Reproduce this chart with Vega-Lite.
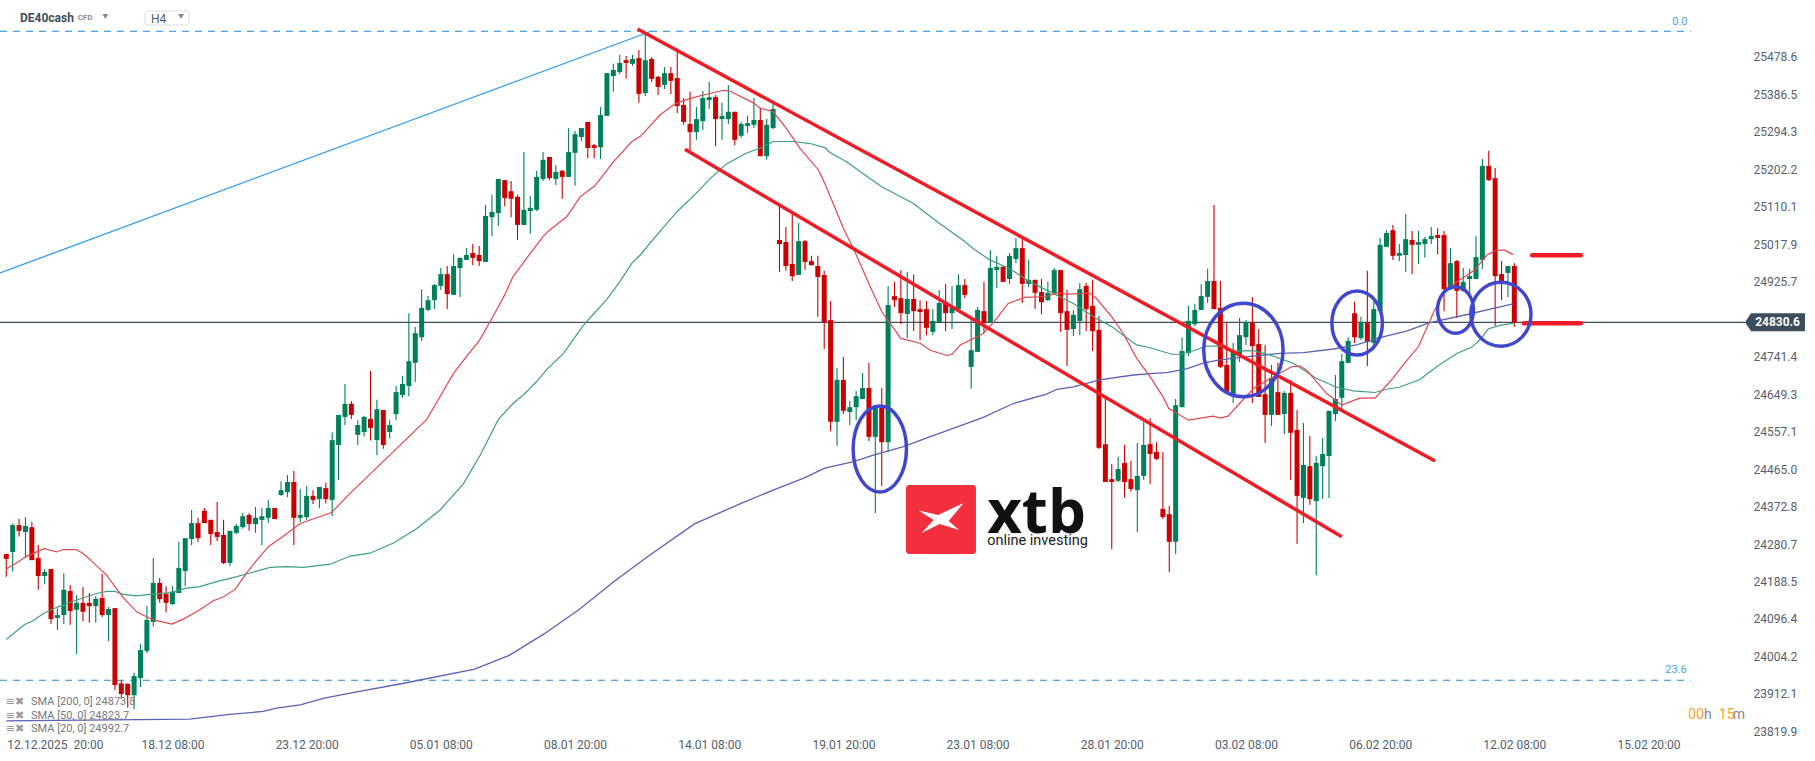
{
"$schema":"https://vega.github.io/schema/vega-lite/v6.json",
"width":1745,"height":738,"autosize":{"type":"none"},"padding":{"left":0,"top":0,"right":70,"bottom":23},"background":"white",
"config":{"view":{"stroke":null},"text":{"font":"Roboto"},"axis":{"labelFont":"Roboto","labelColor":"#55606a","labelFontSize":12,"ticks":false,"domain":false,"grid":false,"title":null}},
"datasets":{
"candles":[
{"i":0,"o":24261,"h":24261,"l":24205,"c":24249},{"i":1,"o":24266,"h":24336,"l":24218,"c":24332},{"i":2,"o":24332,"h":24347,"l":24304,"c":24318},{"i":3,"o":24315,"h":24352,"l":24252,"c":24330},{"i":4,"o":24327,"h":24340,"l":24246,"c":24246},{"i":5,"o":24251,"h":24283,"l":24173,"c":24207},{"i":6,"o":24207,"h":24224,"l":24187,"c":24217},{"i":7,"o":24224,"h":24224,"l":24089,"c":24101},{"i":8,"o":24104,"h":24128,"l":24074,"c":24111},{"i":9,"o":24111,"h":24214,"l":24089,"c":24173},
{"i":10,"o":24170,"h":24185,"l":24087,"c":24121},{"i":11,"o":24124,"h":24160,"l":24015,"c":24141},{"i":12,"o":24141,"h":24180,"l":24096,"c":24119},{"i":13,"o":24141,"h":24165,"l":24092,"c":24133},{"i":14,"o":24133,"h":24158,"l":24092,"c":24151},{"i":15,"o":24153,"h":24212,"l":24106,"c":24111},{"i":16,"o":24111,"h":24131,"l":24047,"c":24126},{"i":17,"o":24128,"h":24128,"l":23927,"c":23939},{"i":18,"o":23943,"h":23951,"l":23906,"c":23917},{"i":19,"o":23942,"h":23943,"l":23884,"c":23914},
{"i":20,"o":23914,"h":23969,"l":23880,"c":23961},{"i":21,"o":23956,"h":24040,"l":23934,"c":24025},{"i":22,"o":24023,"h":24133,"l":24018,"c":24099},{"i":23,"o":24094,"h":24251,"l":24082,"c":24190},{"i":24,"o":24190,"h":24202,"l":24141,"c":24150},{"i":25,"o":24163,"h":24182,"l":24118,"c":24141},{"i":26,"o":24138,"h":24182,"l":24136,"c":24168},{"i":27,"o":24165,"h":24291,"l":24165,"c":24227},{"i":28,"o":24219,"h":24300,"l":24182,"c":24300},{"i":29,"o":24298,"h":24369,"l":24283,"c":24337},
{"i":30,"o":24337,"h":24350,"l":24291,"c":24300},{"i":31,"o":24367,"h":24374,"l":24337,"c":24337},{"i":32,"o":24345,"h":24345,"l":24283,"c":24310},{"i":33,"o":24315,"h":24389,"l":24293,"c":24303},{"i":34,"o":24308,"h":24345,"l":24236,"c":24239},{"i":35,"o":24239,"h":24318,"l":24232,"c":24318},{"i":36,"o":24313,"h":24335,"l":24310,"c":24330},{"i":37,"o":24327,"h":24362,"l":24323,"c":24354},{"i":38,"o":24357,"h":24362,"l":24318,"c":24335},{"i":39,"o":24335,"h":24377,"l":24313,"c":24350},
{"i":40,"o":24345,"h":24374,"l":24283,"c":24354},{"i":41,"o":24350,"h":24394,"l":24337,"c":24374},{"i":42,"o":24374,"h":24374,"l":24347,"c":24347},{"i":43,"o":24406,"h":24440,"l":24404,"c":24418},{"i":44,"o":24413,"h":24455,"l":24401,"c":24438},{"i":45,"o":24438,"h":24465,"l":24283,"c":24350},{"i":46,"o":24350,"h":24421,"l":24340,"c":24357},{"i":47,"o":24352,"h":24428,"l":24345,"c":24404},{"i":48,"o":24404,"h":24418,"l":24384,"c":24394},{"i":49,"o":24396,"h":24426,"l":24374,"c":24426},
{"i":50,"o":24423,"h":24436,"l":24386,"c":24396},{"i":51,"o":24394,"h":24560,"l":24354,"c":24541},{"i":52,"o":24529,"h":24603,"l":24443,"c":24603},{"i":53,"o":24598,"h":24679,"l":24578,"c":24630},{"i":54,"o":24630,"h":24637,"l":24593,"c":24603},{"i":55,"o":24554,"h":24590,"l":24529,"c":24578},{"i":56,"o":24561,"h":24600,"l":24550,"c":24598},{"i":57,"o":24593,"h":24711,"l":24540,"c":24571},{"i":58,"o":24541,"h":24640,"l":24504,"c":24617},{"i":59,"o":24615,"h":24615,"l":24520,"c":24529},
{"i":60,"o":24561,"h":24590,"l":24545,"c":24578},{"i":61,"o":24605,"h":24674,"l":24590,"c":24659},{"i":62,"o":24652,"h":24699,"l":24645,"c":24679},{"i":63,"o":24674,"h":24853,"l":24649,"c":24735},{"i":64,"o":24731,"h":24819,"l":24684,"c":24804},{"i":65,"o":24794,"h":24912,"l":24785,"c":24866},{"i":66,"o":24861,"h":24895,"l":24858,"c":24885},{"i":67,"o":24885,"h":24925,"l":24863,"c":24922},{"i":68,"o":24920,"h":24964,"l":24910,"c":24949},{"i":69,"o":24949,"h":24969,"l":24863,"c":24900},
{"i":70,"o":24898,"h":24998,"l":24898,"c":24969},{"i":71,"o":24964,"h":24989,"l":24893,"c":24989},{"i":72,"o":24984,"h":25013,"l":24984,"c":24996},{"i":73,"o":25001,"h":25023,"l":24971,"c":24989},{"i":74,"o":24996,"h":25018,"l":24969,"c":24981},{"i":75,"o":24979,"h":25119,"l":24979,"c":25092},{"i":76,"o":25089,"h":25144,"l":25043,"c":25102},{"i":77,"o":25099,"h":25183,"l":25067,"c":25183},{"i":78,"o":25180,"h":25180,"l":25116,"c":25136},{"i":79,"o":25153,"h":25178,"l":25089,"c":25134},
{"i":80,"o":25139,"h":25144,"l":25033,"c":25070},{"i":81,"o":25070,"h":25249,"l":25070,"c":25107},{"i":82,"o":25104,"h":25141,"l":25048,"c":25112},{"i":83,"o":25107,"h":25203,"l":25104,"c":25188},{"i":84,"o":25183,"h":25249,"l":25178,"c":25230},{"i":85,"o":25237,"h":25237,"l":25180,"c":25185},{"i":86,"o":25183,"h":25217,"l":25168,"c":25200},{"i":87,"o":25203,"h":25205,"l":25134,"c":25188},{"i":88,"o":25188,"h":25308,"l":25188,"c":25249},{"i":89,"o":25247,"h":25301,"l":25166,"c":25293},
{"i":90,"o":25286,"h":25308,"l":25276,"c":25308},{"i":91,"o":25323,"h":25323,"l":25234,"c":25259},{"i":92,"o":25266,"h":25269,"l":25234,"c":25259},{"i":93,"o":25261,"h":25360,"l":25232,"c":25340},{"i":94,"o":25338,"h":25443,"l":25338,"c":25443},{"i":95,"o":25436,"h":25466,"l":25397,"c":25451},{"i":96,"o":25446,"h":25488,"l":25441,"c":25468},{"i":97,"o":25475,"h":25485,"l":25429,"c":25468},{"i":98,"o":25466,"h":25488,"l":25461,"c":25478},{"i":99,"o":25480,"h":25500,"l":25370,"c":25392},
{"i":100,"o":25394,"h":25544,"l":25387,"c":25475},{"i":101,"o":25478,"h":25483,"l":25421,"c":25429},{"i":102,"o":25434,"h":25436,"l":25389,"c":25409},{"i":103,"o":25414,"h":25458,"l":25404,"c":25443},{"i":104,"o":25443,"h":25458,"l":25392,"c":25424},{"i":105,"o":25431,"h":25495,"l":25345,"c":25362},{"i":106,"o":25365,"h":25382,"l":25316,"c":25323},{"i":107,"o":25318,"h":25397,"l":25254,"c":25298},{"i":108,"o":25298,"h":25360,"l":25279,"c":25330},{"i":109,"o":25325,"h":25399,"l":25303,"c":25382},
{"i":110,"o":25377,"h":25421,"l":25355,"c":25384},{"i":111,"o":25384,"h":25389,"l":25264,"c":25330},{"i":112,"o":25330,"h":25370,"l":25279,"c":25338},{"i":113,"o":25330,"h":25414,"l":25318,"c":25348},{"i":114,"o":25348,"h":25348,"l":25266,"c":25279},{"i":115,"o":25289,"h":25323,"l":25284,"c":25318},{"i":116,"o":25313,"h":25338,"l":25296,"c":25320},{"i":117,"o":25316,"h":25382,"l":25308,"c":25328},{"i":118,"o":25328,"h":25357,"l":25239,"c":25239},{"i":119,"o":25239,"h":25330,"l":25230,"c":25316},
{"i":120,"o":25308,"h":25370,"l":25306,"c":25355},{"i":121,"o":25033,"h":25116,"l":24954,"c":25023},{"i":122,"o":25028,"h":25065,"l":24957,"c":24969},{"i":123,"o":24974,"h":25097,"l":24932,"c":24944},{"i":124,"o":24947,"h":25075,"l":24947,"c":25030},{"i":125,"o":25030,"h":25033,"l":24959,"c":24979},{"i":126,"o":24981,"h":24994,"l":24971,"c":24971},{"i":127,"o":24969,"h":24994,"l":24844,"c":24942},{"i":128,"o":24947,"h":24957,"l":24765,"c":24831},{"i":129,"o":24836,"h":24883,"l":24563,"c":24586},
{"i":130,"o":24586,"h":24718,"l":24527,"c":24689},{"i":131,"o":24689,"h":24745,"l":24605,"c":24613},{"i":132,"o":24610,"h":24637,"l":24578,"c":24622},{"i":133,"o":24622,"h":24662,"l":24590,"c":24649},{"i":134,"o":24642,"h":24706,"l":24642,"c":24669},{"i":135,"o":24669,"h":24731,"l":24539,"c":24549},{"i":136,"o":24549,"h":24622,"l":24362,"c":24622},{"i":137,"o":24620,"h":24669,"l":24428,"c":24536},{"i":138,"o":24536,"h":24920,"l":24512,"c":24873},{"i":139,"o":24895,"h":24930,"l":24868,"c":24885},
{"i":140,"o":24890,"h":24959,"l":24826,"c":24853},{"i":141,"o":24851,"h":24954,"l":24792,"c":24888},{"i":142,"o":24888,"h":24949,"l":24809,"c":24858},{"i":143,"o":24863,"h":24885,"l":24787,"c":24856},{"i":144,"o":24863,"h":24883,"l":24799,"c":24817},{"i":145,"o":24807,"h":24863,"l":24799,"c":24834},{"i":146,"o":24831,"h":24910,"l":24831,"c":24878},{"i":147,"o":24880,"h":24925,"l":24809,"c":24853},{"i":148,"o":24853,"h":24920,"l":24814,"c":24866},{"i":149,"o":24863,"h":24949,"l":24863,"c":24922},
{"i":150,"o":24922,"h":24937,"l":24890,"c":24898},{"i":151,"o":24721,"h":24839,"l":24667,"c":24762},{"i":152,"o":24758,"h":24868,"l":24758,"c":24861},{"i":153,"o":24858,"h":24930,"l":24804,"c":24829},{"i":154,"o":24829,"h":25008,"l":24829,"c":24964},{"i":155,"o":24959,"h":24994,"l":24915,"c":24967},{"i":156,"o":24967,"h":24971,"l":24930,"c":24930},{"i":157,"o":24937,"h":25001,"l":24925,"c":24994},{"i":158,"o":24986,"h":25038,"l":24976,"c":25013},{"i":159,"o":25013,"h":25038,"l":24878,"c":24925},
{"i":160,"o":24925,"h":24984,"l":24917,"c":24935},{"i":161,"o":24935,"h":24935,"l":24863,"c":24903},{"i":162,"o":24905,"h":24937,"l":24851,"c":24880},{"i":163,"o":24885,"h":24930,"l":24883,"c":24903},{"i":164,"o":24903,"h":24964,"l":24903,"c":24959},{"i":165,"o":24959,"h":24959,"l":24807,"c":24853},{"i":166,"o":24858,"h":24910,"l":24723,"c":24812},{"i":167,"o":24814,"h":24861,"l":24797,"c":24849},{"i":168,"o":24834,"h":24927,"l":24799,"c":24912},{"i":169,"o":24920,"h":24927,"l":24809,"c":24863},
{"i":170,"o":24871,"h":24935,"l":24760,"c":24809},{"i":171,"o":24812,"h":24846,"l":24519,"c":24522},{"i":172,"o":24531,"h":24645,"l":24438,"c":24438},{"i":173,"o":24445,"h":24482,"l":24273,"c":24438},{"i":174,"o":24441,"h":24500,"l":24438,"c":24470},{"i":175,"o":24485,"h":24529,"l":24399,"c":24438},{"i":176,"o":24445,"h":24490,"l":24414,"c":24421},{"i":177,"o":24418,"h":24534,"l":24315,"c":24453},{"i":178,"o":24453,"h":24586,"l":24443,"c":24529},{"i":179,"o":24531,"h":24595,"l":24433,"c":24507},
{"i":180,"o":24512,"h":24536,"l":24492,"c":24495},{"i":181,"o":24372,"h":24512,"l":24347,"c":24352},{"i":182,"o":24359,"h":24379,"l":24217,"c":24291},{"i":183,"o":24291,"h":24642,"l":24261,"c":24627},{"i":184,"o":24622,"h":24794,"l":24622,"c":24760},{"i":185,"o":24755,"h":24871,"l":24748,"c":24834},{"i":186,"o":24826,"h":24876,"l":24821,"c":24861},{"i":187,"o":24861,"h":24925,"l":24861,"c":24895},{"i":188,"o":24893,"h":24962,"l":24878,"c":24932},{"i":189,"o":24932,"h":25119,"l":24863,"c":24863},
{"i":190,"o":24866,"h":24932,"l":24718,"c":24721},{"i":191,"o":24726,"h":24829,"l":24657,"c":24657},{"i":192,"o":24649,"h":24780,"l":24632,"c":24760},{"i":193,"o":24748,"h":24841,"l":24733,"c":24799},{"i":194,"o":24794,"h":24836,"l":24775,"c":24831},{"i":195,"o":24829,"h":24893,"l":24632,"c":24772},{"i":196,"o":24777,"h":24814,"l":24647,"c":24647},{"i":197,"o":24654,"h":24775,"l":24534,"c":24603},{"i":198,"o":24603,"h":24726,"l":24576,"c":24694},{"i":199,"o":24659,"h":24731,"l":24603,"c":24603},
{"i":200,"o":24605,"h":24662,"l":24556,"c":24657},{"i":201,"o":24657,"h":24689,"l":24443,"c":24559},{"i":202,"o":24566,"h":24615,"l":24286,"c":24404},{"i":203,"o":24399,"h":24583,"l":24337,"c":24480},{"i":204,"o":24477,"h":24551,"l":24382,"c":24396},{"i":205,"o":24391,"h":24502,"l":24209,"c":24485},{"i":206,"o":24477,"h":24546,"l":24396,"c":24507},{"i":207,"o":24502,"h":24613,"l":24399,"c":24613},{"i":208,"o":24605,"h":24701,"l":24588,"c":24642},{"i":209,"o":24645,"h":24753,"l":24615,"c":24735},
{"i":210,"o":24731,"h":24794,"l":24731,"c":24785},{"i":211,"o":24853,"h":24881,"l":24780,"c":24794},{"i":212,"o":24792,"h":24844,"l":24787,"c":24831},{"i":213,"o":24829,"h":24957,"l":24723,"c":24782},{"i":214,"o":24780,"h":24881,"l":24762,"c":24863},{"i":215,"o":24858,"h":25038,"l":24858,"c":25021},{"i":216,"o":25016,"h":25057,"l":25016,"c":25050},{"i":217,"o":25057,"h":25070,"l":24984,"c":24994},{"i":218,"o":24994,"h":25023,"l":24981,"c":25001},{"i":219,"o":24996,"h":25097,"l":24954,"c":25035},
{"i":220,"o":25033,"h":25055,"l":24949,"c":25021},{"i":221,"o":25021,"h":25055,"l":24974,"c":25028},{"i":222,"o":25023,"h":25040,"l":24989,"c":25035},{"i":223,"o":25035,"h":25065,"l":25023,"c":25043},{"i":224,"o":25045,"h":25062,"l":24998,"c":25038},{"i":225,"o":25045,"h":25055,"l":24858,"c":24912},{"i":226,"o":24912,"h":25013,"l":24910,"c":24976},{"i":227,"o":24981,"h":24984,"l":24841,"c":24908},{"i":228,"o":24908,"h":24964,"l":24905,"c":24930},{"i":229,"o":24937,"h":24962,"l":24898,"c":24944},
{"i":230,"o":24937,"h":25043,"l":24937,"c":24991},{"i":231,"o":24984,"h":25232,"l":24962,"c":25215},{"i":232,"o":25215,"h":25252,"l":25178,"c":25180},{"i":233,"o":25185,"h":25210,"l":24822,"c":24944},{"i":234,"o":24949,"h":24981,"l":24885,"c":24930},{"i":235,"o":24952,"h":24969,"l":24893,"c":24969},{"i":236,"o":24969,"h":24976,"l":24819,"c":24831}
],
"sma20":[
{"i":0,"p":24224},{"i":1.9,"p":24242},{"i":3,"p":24254},{"i":4.85,"p":24267},{"i":5.95,"p":24274},{"i":7.9,"p":24266},{"i":8.9,"p":24272},{"i":10.9,"p":24272},{"i":12,"p":24263},{"i":13.6,"p":24240},{"i":15.7,"p":24209},{"i":17,"p":24181},{"i":18.4,"p":24152},{"i":20.4,"p":24119},{"i":23,"p":24099},{"i":25.9,"p":24089},{"i":27.7,"p":24101},{"i":29.8,"p":24119},{"i":32.4,"p":24146},{"i":34,"p":24156},{"i":35.8,"p":24174},{"i":37.6,"p":24214},{"i":39.2,"p":24246},{"i":41,"p":24279},{"i":43.3,"p":24304},{"i":46,"p":24336},{"i":50.9,"p":24363},{"i":53.8,"p":24410},{"i":65.8,"p":24592},{"i":68.9,"p":24676},{"i":70,"p":24705},{"i":72,"p":24746},{"i":74,"p":24785},{"i":75.7,"p":24832},{"i":77,"p":24869},{"i":78,"p":24898},{"i":79.3,"p":24943},{"i":82,"p":25000},{"i":84,"p":25041},{"i":85,"p":25057},{"i":87.7,"p":25090},{"i":89.8,"p":25139},{"i":92.1,"p":25166},{"i":95,"p":25225},{"i":97.9,"p":25275},{"i":99.2,"p":25287},{"i":102.3,"p":25340},{"i":104.6,"p":25367},{"i":107,"p":25381},{"i":110.1,"p":25393},{"i":112.2,"p":25401},{"i":113.2,"p":25399},{"i":116.9,"p":25370},{"i":118,"p":25357},{"i":120,"p":25348},{"i":121.9,"p":25311},{"i":124.2,"p":25258},{"i":127.1,"p":25205},{"i":128.1,"p":25172},{"i":131,"p":25062},{"i":132.8,"p":25004},{"i":135.2,"p":24918},{"i":137,"p":24857},{"i":138.3,"p":24828},{"i":140,"p":24791},{"i":143,"p":24779},{"i":144.6,"p":24762},{"i":147.2,"p":24749},{"i":148,"p":24752},{"i":149.3,"p":24775},{"i":152.9,"p":24803},{"i":155,"p":24840},{"i":156.8,"p":24877},{"i":159.4,"p":24892},{"i":162.8,"p":24894},{"i":164.4,"p":24903},{"i":166,"p":24900},{"i":169.6,"p":24902},{"i":170.6,"p":24889},{"i":173,"p":24844},{"i":174.8,"p":24803},{"i":176.9,"p":24742},{"i":179,"p":24697},{"i":181,"p":24648},{"i":181.9,"p":24619},{"i":185,"p":24590},{"i":188.9,"p":24600},{"i":190,"p":24595},{"i":191.2,"p":24600},{"i":193,"p":24631},{"i":195.2,"p":24668},{"i":198.3,"p":24697},{"i":201.2,"p":24722},{"i":202.5,"p":24723},{"i":203.5,"p":24713},{"i":206.6,"p":24656},{"i":209,"p":24627},{"i":211.8,"p":24644},{"i":214.2,"p":24644},{"i":217,"p":24693},{"i":218.6,"p":24726},{"i":221,"p":24771},{"i":223.3,"p":24853},{"i":225.1,"p":24910},{"i":227.5,"p":24935},{"i":229.8,"p":24959},{"i":231.7,"p":24996},{"i":233.2,"p":25008},{"i":234.5,"p":25008},{"i":235.8,"p":24997}
],
"sma50":[
{"i":0,"p":24051},{"i":2.8,"p":24087},{"i":4.2,"p":24097},{"i":5.8,"p":24115},{"i":7.9,"p":24130},{"i":11,"p":24148},{"i":14.1,"p":24164},{"i":15.7,"p":24169},{"i":17,"p":24169},{"i":18.3,"p":24162},{"i":20.4,"p":24158},{"i":22.5,"p":24162},{"i":25.6,"p":24166},{"i":28.2,"p":24177},{"i":30.3,"p":24181},{"i":32.9,"p":24193},{"i":35.5,"p":24203},{"i":37.6,"p":24212},{"i":41.3,"p":24228},{"i":43.9,"p":24230},{"i":46.5,"p":24228},{"i":50.7,"p":24236},{"i":53.8,"p":24256},{"i":56.9,"p":24263},{"i":60.6,"p":24288},{"i":64.2,"p":24323},{"i":67.8,"p":24368},{"i":71.5,"p":24433},{"i":74.2,"p":24505},{"i":77,"p":24592},{"i":79.3,"p":24631},{"i":80.9,"p":24652},{"i":83,"p":24685},{"i":84.6,"p":24715},{"i":87.2,"p":24754},{"i":89.8,"p":24812},{"i":90.8,"p":24832},{"i":93.9,"p":24885},{"i":96,"p":24930},{"i":97.9,"p":24976},{"i":99.2,"p":24996},{"i":101.8,"p":25045},{"i":105,"p":25103},{"i":108.5,"p":25156},{"i":109.9,"p":25180},{"i":112.7,"p":25220},{"i":115.8,"p":25246},{"i":118.5,"p":25262},{"i":120,"p":25275},{"i":123.2,"p":25275},{"i":125.8,"p":25270},{"i":128.1,"p":25260},{"i":128.9,"p":25248},{"i":131.5,"p":25225},{"i":133.6,"p":25201},{"i":137,"p":25164},{"i":141.9,"p":25123},{"i":146,"p":25074},{"i":150,"p":25029},{"i":151.3,"p":25012},{"i":153.9,"p":24984},{"i":157,"p":24963},{"i":160.2,"p":24930},{"i":163.3,"p":24906},{"i":167,"p":24877},{"i":170.6,"p":24840},{"i":173,"p":24820},{"i":175.1,"p":24795},{"i":176.9,"p":24775},{"i":179,"p":24768},{"i":182.4,"p":24752},{"i":183.9,"p":24752},{"i":186,"p":24762},{"i":187.8,"p":24772},{"i":189.9,"p":24772},{"i":191.5,"p":24760},{"i":195.2,"p":24761},{"i":197.8,"p":24750},{"i":201.4,"p":24730},{"i":205,"p":24693},{"i":208.2,"p":24671},{"i":210.8,"p":24662},{"i":214.2,"p":24658},{"i":216,"p":24666},{"i":218,"p":24671},{"i":221.2,"p":24690},{"i":223.9,"p":24722},{"i":227,"p":24754},{"i":229.3,"p":24769},{"i":230.6,"p":24787},{"i":231.9,"p":24814},{"i":233.7,"p":24823},{"i":235.8,"p":24828}
],
"sma200":[
{"i":0,"p":23851},{"i":28.7,"p":23855},{"i":35,"p":23867},{"i":40.2,"p":23874},{"i":42.3,"p":23882},{"i":46,"p":23890},{"i":49.6,"p":23906},{"i":53.8,"p":23919},{"i":62.4,"p":23944},{"i":73.3,"p":23978},{"i":78.7,"p":24012},{"i":84.1,"p":24064},{"i":89.6,"p":24124},{"i":95,"p":24192},{"i":100.4,"p":24255},{"i":107.7,"p":24335},{"i":114.9,"p":24385},{"i":120.3,"p":24420},{"i":124.7,"p":24447},{"i":128.1,"p":24472},{"i":132.6,"p":24488},{"i":135.7,"p":24504},{"i":140.4,"p":24525},{"i":144.5,"p":24549},{"i":152.9,"p":24597},{"i":157.6,"p":24631},{"i":162.8,"p":24654},{"i":164.4,"p":24666},{"i":167,"p":24672},{"i":171.1,"p":24689},{"i":176.4,"p":24701},{"i":179.5,"p":24705},{"i":181.6,"p":24707},{"i":184.7,"p":24716},{"i":187.3,"p":24730},{"i":189.9,"p":24738},{"i":193.6,"p":24745},{"i":199.3,"p":24754},{"i":203,"p":24756},{"i":207.7,"p":24765},{"i":211.3,"p":24775},{"i":214.5,"p":24791},{"i":219.1,"p":24809},{"i":222.8,"p":24830},{"i":229,"p":24851},{"i":232.7,"p":24865},{"i":235.8,"p":24876}
]
},
"encoding":{
"x":{"field":"i","type":"quantitative","scale":{"domain":[-0.986,272.1],"nice":false,"zero":false,"padding":0},
"axis":{"values":[7.6,26,47,68,89,110,131,152,173,194,215,236,257],"labelPadding":1,"labelOverlap":false,"labelBound":false,"labelFlush":false,"labelExpr":"{'7.6':'12.12.2025\u00a0\u00a020:00','26':'18.12 08:00','47':'23.12 20:00','68':'05.01 08:00','89':'08.01 20:00','110':'14.01 08:00','131':'19.01 20:00','152':'23.01 08:00','173':'28.01 20:00','194':'03.02 08:00','215':'06.02 20:00','236':'12.02 08:00','257':'15.02 20:00'}[datum.value]"}},
"y":{"field":"p","type":"quantitative","scale":{"domain":[23808.8,25622.8],"nice":false,"zero":false},
"axis":{"orient":"right","values":[25478.6,25386.5,25294.3,25202.2,25110.1,25017.9,24925.7,24741.4,24649.3,24557.1,24465.0,24372.8,24280.7,24188.5,24096.4,24004.2,23912.1,23819.9],"format":".1f","labelPadding":8,"labelOverlap":false,"labelBound":false,"labelOffset":-2}}
},
"layer":[
{"data":{"values":[{"i":-0.986,"p":24830.6},{"i":272.1,"p":24830.6}]},"mark":{"type":"line","color":"#3d4d5c","strokeWidth":1.2}},
{"data":{"values":[{"i":-0.986,"p":25545.9},{"i":263.6,"p":25545.9}]},"mark":{"type":"line","color":"#1e88e5","strokeWidth":1.1,"strokeDash":[7,6]}},
{"data":{"values":[{"i":-0.986,"p":23950.6},{"i":263.6,"p":23950.6}]},"mark":{"type":"line","color":"#1e88e5","strokeWidth":1.1,"strokeDash":[7,6]}},
{"data":{"values":[{"i":-0.986,"p":24951.8},{"i":101,"p":25546.6}]},"mark":{"type":"line","color":"#2f9bf0","strokeWidth":1.3}},
{"data":{"name":"candles"},"mark":{"type":"rule","strokeWidth":1.1},
"encoding":{"y":{"field":"l","type":"quantitative","scale":{"domain":[23808.8,25622.8],"nice":false,"zero":false}},"y2":{"field":"h"},
"color":{"condition":{"test":"datum.c>=datum.o","value":"#00805a"},"value":"#cc0000"}}},
{"data":{"name":"candles"},"mark":{"type":"bar","size":5},
"encoding":{"y":{"field":"o","type":"quantitative","scale":{"domain":[23808.8,25622.8],"nice":false,"zero":false}},"y2":{"field":"c"},
"color":{"condition":{"test":"datum.c>=datum.o","value":"#00805a"},"value":"#cc0000"}}},
{"data":{"name":"sma200"},"mark":{"type":"line","color":"#5a62b8","strokeWidth":1.3}},
{"data":{"name":"sma50"},"mark":{"type":"line","color":"#3f9f80","strokeWidth":1.2}},
{"data":{"name":"sma20"},"mark":{"type":"line","color":"#e0474c","strokeWidth":1.2}},
{"data":{"values":[{"i":98.8,"p":25551.5},{"i":223.6,"p":24489.7}]},"mark":{"type":"line","color":"#ee1c25","strokeWidth":3.5}},
{"data":{"values":[{"i":106.2,"p":25255.8},{"i":209,"p":24303.6}]},"mark":{"type":"line","color":"#ee1c25","strokeWidth":3.5}},
{"data":{"values":[{"i":238.8,"p":24995.3},{"i":246.4,"p":24995.3}]},"mark":{"type":"line","color":"#ee1c25","strokeWidth":4.5,"strokeCap":"round"}},
{"data":{"values":[{"i":237.5,"p":24828.1},{"i":246.4,"p":24828.1}]},"mark":{"type":"line","color":"#ee1c25","strokeWidth":4.5,"strokeCap":"round"}},
{"data":{"values":[{"i":136.7,"p":24519.2}]},"mark":{"type":"point","shape":"M0,-1 A0.62,1 0 1 1 0,1 A0.62,1 0 1 1 0,-1 Z","size":7396,"filled":false,"stroke":"#3f48cc","strokeWidth":3.5,"opacity":1}},
{"data":{"values":[{"i":193.6,"p":24762.5}]},"mark":{"type":"point","shape":"M0,-1 A0.85,1 0 1 1 0,1 A0.85,1 0 1 1 0,-1 Z","size":8724,"filled":false,"stroke":"#3f48cc","strokeWidth":3.5,"opacity":1}},
{"data":{"values":[{"i":211.4,"p":24828.9}]},"mark":{"type":"point","shape":"M0,-1 A0.79,1 0 1 1 0,1 A0.79,1 0 1 1 0,-1 Z","size":4096,"filled":false,"stroke":"#3f48cc","strokeWidth":3.5,"opacity":1}},
{"data":{"values":[{"i":226.8,"p":24860.8}]},"mark":{"type":"point","shape":"M0,-1 A0.77,1 0 1 1 0,1 A0.77,1 0 1 1 0,-1 Z","size":2172,"filled":false,"stroke":"#3f48cc","strokeWidth":3.5,"opacity":1}},
{"data":{"values":[{"i":233.9,"p":24850.3}]},"mark":{"type":"point","shape":"M0,-1 A0.94,1 0 1 1 0,1 A0.94,1 0 1 1 0,-1 Z","size":4096,"filled":false,"stroke":"#3f48cc","strokeWidth":3.5,"opacity":1}},
{"data":{"values":[{"i":276.8,"p":24830.6}]},"mark":{"type":"point","shape":"M-1,0 L-0.8,-0.3 L1,-0.3 L1,0.3 L-0.8,0.3 Z","size":3600,"filled":true,"fill":"#3d4d5c","opacity":1}},
{"data":{"values":[{"i":277.2,"p":24830.6,"t":"24830.6"}]},"mark":{"type":"text","color":"white","fontSize":12,"fontWeight":"bold","align":"center","baseline":"middle"},"encoding":{"text":{"field":"t"}}},
{"data":{"values":[{"i":261.9,"p":25568.7,"t":"0.0"},{"i":261.3,"p":23976,"t":"23.6"}]},"mark":{"type":"text","color":"#4aa3df","fontSize":11,"align":"center","baseline":"middle"},"encoding":{"text":{"field":"t"}}},
{"data":{"values":[{"i":2.15,"p":25577.8,"t":"DE40cash"}]},"mark":{"type":"text","color":"#3d4d5c","fontSize":12,"fontWeight":"bold","align":"left","baseline":"middle"},"encoding":{"text":{"field":"t"}}},
{"data":{"values":[{"i":11.2,"p":25577.8,"t":"CFD"}]},"mark":{"type":"text","color":"#8a9096","fontSize":8,"fontWeight":"bold","align":"left","baseline":"middle"},"encoding":{"text":{"field":"t"}}},
{"data":{"values":[{"i":21.7,"i2":28.6,"p":25595.8,"p2":25561.3}]},"mark":{"type":"rect","fill":"white","stroke":"#dddddd","cornerRadius":2},"encoding":{"x2":{"field":"i2"},"y2":{"field":"p2"}}},
{"data":{"values":[{"i":22.65,"p":25576,"t":"H4"}]},"mark":{"type":"text","color":"#55606a","fontSize":12,"align":"left","baseline":"middle"},"encoding":{"text":{"field":"t"}}},
{"data":{"values":[{"i":15.5,"p":25582.2},{"i":27.35,"p":25582.2}]},"mark":{"type":"point","shape":"triangle-down","size":35,"filled":true,"fill":"#8a8a8a","opacity":1}},
{"data":{"values":[{"i":3.87,"p":23898,"t":"SMA [200, 0] 24873.8"},{"i":3.87,"p":23863.6,"t":"SMA [50, 0] 24823.7"},{"i":3.87,"p":23829.7,"t":"SMA [20, 0] 24992.7"}]},"mark":{"type":"text","color":"#777777","fontSize":11,"align":"left","baseline":"middle"},"encoding":{"text":{"field":"t"}}},
{"data":{"values":[{"i":-0.1,"p":23898,"t":"≡✖"},{"i":-0.1,"p":23863.6,"t":"≡✖"},{"i":-0.1,"p":23829.7,"t":"≡✖"}]},"mark":{"type":"text","color":"#999999","fontSize":11,"font":"DejaVu Sans","align":"left","baseline":"middle"},"encoding":{"text":{"field":"t"}}},
{"data":{"values":[{"i":263.2,"p":23865.3,"t":"00"},{"i":268,"p":23865.3,"t":"15"}]},"mark":{"type":"text","color":"#f5a623","fontSize":14,"align":"left","baseline":"middle"},"encoding":{"text":{"field":"t"}}},
{"data":{"values":[{"i":265.7,"p":23865.3,"t":"h"},{"i":270.2,"p":23865.3,"t":"m"}]},"mark":{"type":"text","color":"#888888","fontSize":14,"align":"left","baseline":"middle"},"encoding":{"text":{"field":"t"}}},
{"data":{"values":[{"i":140.8,"i2":151.75,"p":24430.7,"p2":24261}]},"mark":{"type":"rect","fill":"#f4303f","cornerRadius":3},"encoding":{"x2":{"field":"i2"},"y2":{"field":"p2"}}},
{"data":{"values":[{"i":146.3,"p":24346}]},"mark":{"type":"point","shape":"M-0.75,-0.3 L-0.1,-0.15 L0.75,-0.55 L0.25,0.05 L0.6,0.35 L-0.05,0.15 L-0.65,0.45 L-0.25,0.02 Z","size":3600,"filled":true,"fill":"white","opacity":1}},
{"data":{"values":[{"i":153.5,"p":24357,"t":"xtb"}]},"mark":{"type":"text","color":"#111111","font":"Open Sans","fontSize":60,"fontWeight":"bold","align":"left","baseline":"middle"},"encoding":{"text":{"field":"t"}}},
{"data":{"values":[{"i":153.5,"p":24293,"t":"online investing"}]},"mark":{"type":"text","color":"#222222","fontSize":14.5,"align":"left","baseline":"middle"},"encoding":{"text":{"field":"t"}}}
]
}
